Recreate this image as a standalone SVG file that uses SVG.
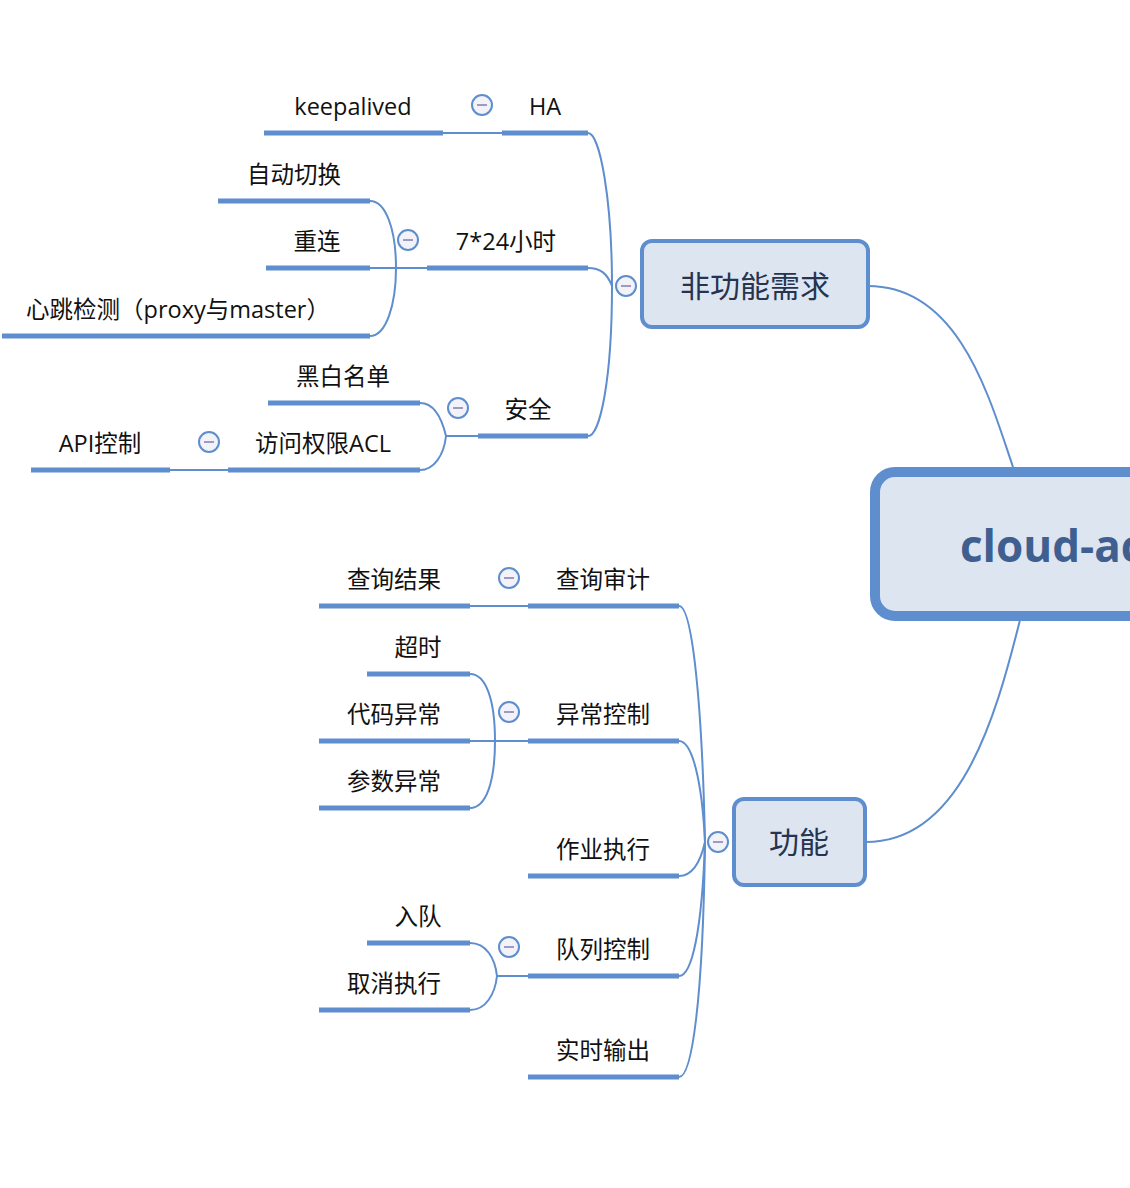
<svg xmlns="http://www.w3.org/2000/svg" width="1130" height="1188" viewBox="0 0 1130 1188">
<style>
.t{font-family:"Open Sans","Noto Sans CJK SC",sans-serif;font-size:23.5px;fill:#111;text-anchor:middle}
.ul{stroke:#5E8ECE;stroke-width:5;fill:none}
.ln{stroke:#5E8ECE;stroke-width:2;fill:none}
.box{fill:#DDE5F1;stroke:#5E8ECE;stroke-width:4}
.nt{font-family:"Open Sans","Noto Sans CJK SC",sans-serif;font-size:30px;fill:#26344F;text-anchor:middle}
.cb{fill:#F2F2F8;stroke:#5E8ECE;stroke-width:2}
.cm{stroke:#9A9CC4;stroke-width:2}
</style>
<defs>
<g id="col"><circle class="cb" r="10"/><line class="cm" x1="-5" y1="0" x2="5" y2="0"/></g>
</defs>
<g id="connectors">
<path class="ln" d="M868,286 C960,286 990,400 1013,467"/>
<path class="ln" d="M866,842 C960,842 995,720 1020,620"/>
<path class="ln" d="M612,286 C612,200 600,133 588,133"/>
<path class="ln" d="M612,286 C607,273 600,268 588,268"/>
<path class="ln" d="M612,286 C612,380 600,436 588,436"/>
<path class="ln" d="M443,133 L502,133"/>
<path class="ln" d="M370,268 L427,268"/>
<path class="ln" d="M396,268 C396,230 386,201 370,201"/>
<path class="ln" d="M396,268 C396,305 386,336 370,336"/>
<path class="ln" d="M446,436 L478,436"/>
<path class="ln" d="M446,436 C441,415 432,403 420,403"/>
<path class="ln" d="M446,436 C444,455 434,470 420,470"/>
<path class="ln" d="M170,470 L228,470"/>
<path class="ln" d="M705,842 C702,700 692,606 679,606"/>
<path class="ln" d="M705,842 C702,780 692,741 679,741"/>
<path class="ln" d="M705,842 C700,864 692,876 679,876"/>
<path class="ln" d="M705,842 C702,930 692,976 679,976"/>
<path class="ln" d="M705,842 C703,1000 692,1077 679,1077"/>
<path class="ln" d="M470,606 L528,606"/>
<path class="ln" d="M470,741 L528,741"/>
<path class="ln" d="M495,741 C495,700 486,674 470,674"/>
<path class="ln" d="M495,741 C495,782 486,808 470,808"/>
<path class="ln" d="M497,976 L528,976"/>
<path class="ln" d="M497,976 C495,958 486,943 470,943"/>
<path class="ln" d="M497,976 C495,994 486,1010 470,1010"/>
</g>
<g id="root">
<rect x="875" y="472" width="290" height="144" rx="20" fill="#DDE5F1" stroke="#5E8ECE" stroke-width="10"/>
<text x="960" y="562" font-family="'Open Sans','Noto Sans',sans-serif" font-weight="bold" font-size="44" fill="#3E5F8F">cloud-acl</text>
</g>
<g id="n-nonfunc">
<rect class="box" x="642" y="241" width="226" height="86" rx="10"/>
<text class="nt" x="755" y="297">非功能需求</text>
<use href="#col" x="626" y="286"/>
</g>
<g id="n-func">
<rect class="box" x="734" y="799" width="131" height="86" rx="10"/>
<text class="nt" x="799" y="853">功能</text>
<use href="#col" x="718" y="842"/>
</g>
<g id="n-ha"><line class="ul" x1="502" y1="133" x2="588" y2="133"/><text class="t" x="545" y="115">HA</text><use href="#col" x="482" y="105"/></g>
<g id="n-keepalived"><line class="ul" x1="264" y1="133" x2="443" y2="133"/><text class="t" x="353" y="115">keepalived</text></g>
<g id="n-724"><line class="ul" x1="427" y1="268" x2="588" y2="268"/><text class="t" x="506" y="250">7*24小时</text><use href="#col" x="408" y="240"/></g>
<g id="n-autoswitch"><line class="ul" x1="218" y1="201" x2="370" y2="201"/><text class="t" x="294" y="183">自动切换</text></g>
<g id="n-reconnect"><line class="ul" x1="266" y1="268" x2="370" y2="268"/><text class="t" x="317" y="250">重连</text></g>
<g id="n-heartbeat"><line class="ul" x1="2" y1="336" x2="370" y2="336"/><text class="t" x="178" y="318">心跳检测（proxy与master）</text></g>
<g id="n-security"><line class="ul" x1="478" y1="436" x2="588" y2="436"/><text class="t" x="528" y="418">安全</text><use href="#col" x="458" y="408"/></g>
<g id="n-blackwhite"><line class="ul" x1="268" y1="403" x2="420" y2="403"/><text class="t" x="343" y="385">黑白名单</text></g>
<g id="n-acl"><line class="ul" x1="228" y1="470" x2="420" y2="470"/><text class="t" x="323" y="452">访问权限ACL</text><use href="#col" x="209" y="442"/></g>
<g id="n-api"><line class="ul" x1="31" y1="470" x2="170" y2="470"/><text class="t" x="100" y="452">API控制</text></g>
<g id="n-audit"><line class="ul" x1="528" y1="606" x2="679" y2="606"/><text class="t" x="603" y="588">查询审计</text><use href="#col" x="509" y="578"/></g>
<g id="n-result"><line class="ul" x1="319" y1="606" x2="470" y2="606"/><text class="t" x="394" y="588">查询结果</text></g>
<g id="n-exception"><line class="ul" x1="528" y1="741" x2="679" y2="741"/><text class="t" x="603" y="723">异常控制</text><use href="#col" x="509" y="712"/></g>
<g id="n-timeout"><line class="ul" x1="367" y1="674" x2="470" y2="674"/><text class="t" x="418" y="656">超时</text></g>
<g id="n-codeerr"><line class="ul" x1="319" y1="741" x2="470" y2="741"/><text class="t" x="394" y="723">代码异常</text></g>
<g id="n-paramerr"><line class="ul" x1="319" y1="808" x2="470" y2="808"/><text class="t" x="394" y="790">参数异常</text></g>
<g id="n-job"><line class="ul" x1="528" y1="876" x2="679" y2="876"/><text class="t" x="603" y="858">作业执行</text></g>
<g id="n-queue"><line class="ul" x1="528" y1="976" x2="679" y2="976"/><text class="t" x="603" y="958">队列控制</text><use href="#col" x="509" y="947"/></g>
<g id="n-enqueue"><line class="ul" x1="367" y1="943" x2="470" y2="943"/><text class="t" x="418" y="925">入队</text></g>
<g id="n-cancel"><line class="ul" x1="319" y1="1010" x2="470" y2="1010"/><text class="t" x="394" y="992">取消执行</text></g>
<g id="n-output"><line class="ul" x1="528" y1="1077" x2="679" y2="1077"/><text class="t" x="603" y="1059">实时输出</text></g>
</svg>
